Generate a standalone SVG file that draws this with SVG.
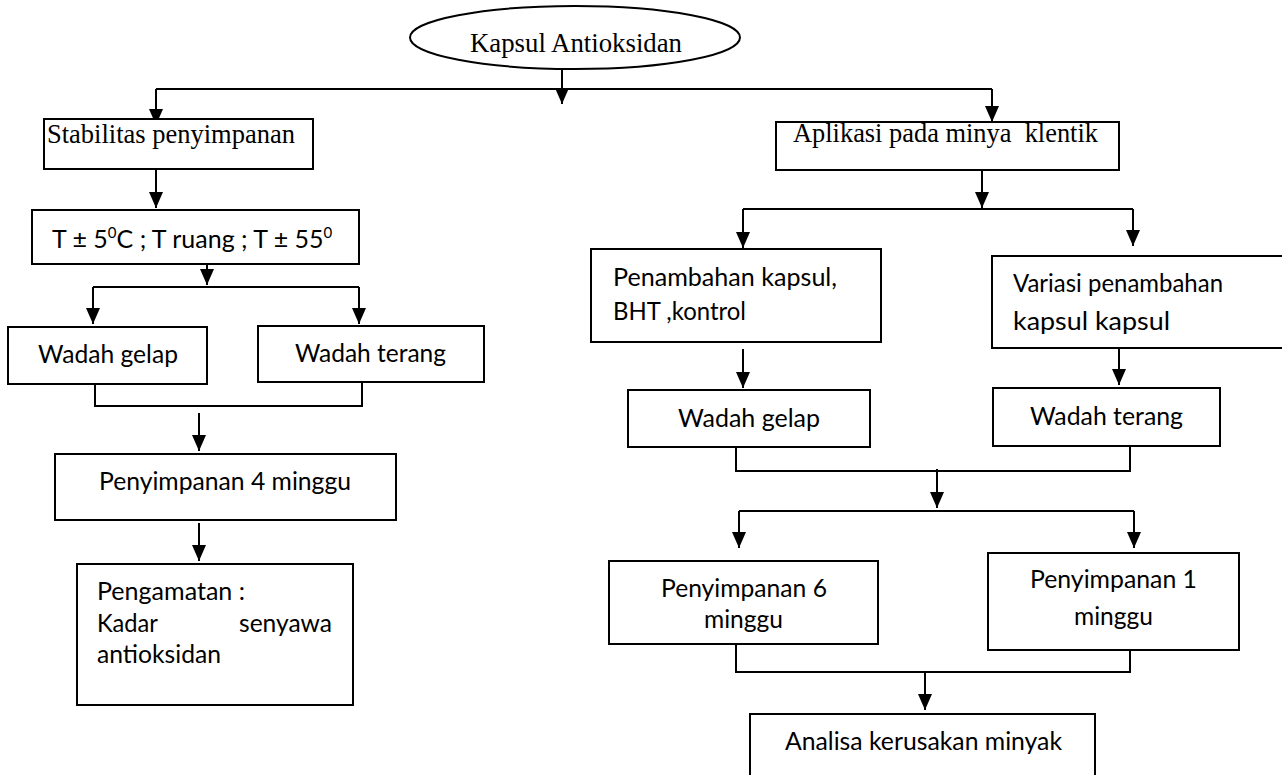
<svg xmlns="http://www.w3.org/2000/svg" width="1282" height="775" viewBox="0 0 1282 775">
<defs>
<marker id="ah" markerUnits="userSpaceOnUse" markerWidth="16" markerHeight="14" refX="16" refY="7" orient="auto">
<path d="M0,0 L16,7 L0,14 z" fill="#000"/>
</marker>
<style>
.box{fill:#fff;stroke:#000;stroke-width:2}
.ln{fill:none;stroke:#000;stroke-width:2}
.ar{fill:none;stroke:#000;stroke-width:2;marker-end:url(#ah)}
.serif{font-family:"Liberation Serif","Times New Roman",serif;font-size:28px;fill:#000;white-space:pre}
.sans{font-family:Lato,"Liberation Sans",sans-serif;font-size:25px;fill:#000;white-space:pre}
</style>
</defs>
<rect width="1282" height="775" fill="#fff"/>

<g id="connectors">
<path class="ar" d="M562,69 V104"/>
<path class="ln" d="M156,89 H992"/>
<path class="ar" d="M156,89 V125"/>
<path class="ar" d="M992,89 V122"/>
<path class="ar" d="M156,169 V208"/>
<path class="ar" d="M207,264 V285"/>
<path class="ln" d="M93,287 H359"/>
<path class="ar" d="M93,287 V324"/>
<path class="ar" d="M359,287 V324"/>
<path class="ln" d="M95,384 V406 H362 V382"/>
<path class="ar" d="M199,413 V451"/>
<path class="ar" d="M199,523 V561"/>
<path class="ar" d="M982,170 V208"/>
<path class="ln" d="M743,209 H1133"/>
<path class="ar" d="M743,209 V248"/>
<path class="ar" d="M1133,209 V246"/>
<path class="ar" d="M743,349 V388"/>
<path class="ar" d="M1119,348 V385"/>
<path class="ln" d="M736,447 V471 H1130 V446"/>
<path class="ar" d="M937,469 V508"/>
<path class="ln" d="M739,511 H1134"/>
<path class="ar" d="M739,511 V548"/>
<path class="ar" d="M1134,511 V548"/>
<path class="ln" d="M736,644 V672 H1130 V650"/>
<path class="ar" d="M925,672 V710"/>
</g>

<g id="kapsul-antioksidan">
<ellipse class="box" cx="575" cy="37.5" rx="165" ry="31.5"/>
<text class="serif" x="470" y="52" textLength="212" lengthAdjust="spacingAndGlyphs">Kapsul Antioksidan</text>
</g>

<g id="stabilitas">
<rect class="box" x="44" y="119" width="269" height="50"/>
<text class="serif" x="47" y="143" textLength="248" lengthAdjust="spacingAndGlyphs">Stabilitas penyimpanan</text>
</g>

<g id="suhu">
<rect class="box" x="32" y="210" width="327" height="54"/>
<text class="sans" x="52" y="248" font-size="24">T ± 5<tspan dy="-10" font-size="15">0</tspan><tspan dy="10">C ; T ruang ; T ± 55</tspan><tspan dy="-10" font-size="15">0</tspan></text>
</g>

<g id="wadah-gelap-1">
<rect class="box" x="8" y="327" width="199" height="57"/>
<text class="sans" x="38" y="363" textLength="140" lengthAdjust="spacingAndGlyphs">Wadah gelap</text>
</g>

<g id="wadah-terang-1">
<rect class="box" x="258" y="326" width="226" height="56"/>
<text class="sans" x="295" y="362" textLength="151" lengthAdjust="spacingAndGlyphs">Wadah terang</text>
</g>

<g id="penyimpanan-4">
<rect class="box" x="55" y="454" width="341" height="66"/>
<text class="sans" x="99" y="490" textLength="252" lengthAdjust="spacingAndGlyphs">Penyimpanan 4 minggu</text>
</g>

<g id="pengamatan">
<rect class="box" x="77" y="564" width="276" height="141"/>
<text class="sans" x="97" y="600" textLength="148" lengthAdjust="spacingAndGlyphs">Pengamatan :</text>
<text class="sans" x="97" y="632" textLength="61" lengthAdjust="spacingAndGlyphs">Kadar</text>
<text class="sans" x="239" y="632" textLength="93" lengthAdjust="spacingAndGlyphs">senyawa</text>
<text class="sans" x="97" y="663" textLength="124" lengthAdjust="spacingAndGlyphs">antioksidan</text>
</g>

<g id="aplikasi">
<rect class="box" x="776" y="122" width="343" height="48"/>
<text class="serif" x="793" y="142" textLength="305" lengthAdjust="spacingAndGlyphs">Aplikasi pada minya  klentik</text>
</g>

<g id="penambahan">
<rect class="box" x="591" y="249" width="290" height="93"/>
<text class="sans" x="613" y="286" textLength="224" lengthAdjust="spacingAndGlyphs">Penambahan kapsul,</text>
<text class="sans" x="613" y="320" textLength="133" lengthAdjust="spacingAndGlyphs">BHT ,kontrol</text>
</g>

<g id="variasi">
<rect class="box" x="992" y="256" width="300" height="92"/>
<text class="sans" x="1013" y="292" textLength="210" lengthAdjust="spacingAndGlyphs">Variasi penambahan</text>
<text class="sans" x="1013" y="330" font-size="29" textLength="157" lengthAdjust="spacingAndGlyphs">kapsul kapsul</text>
</g>

<g id="wadah-gelap-2">
<rect class="box" x="628" y="390" width="242" height="57"/>
<text class="sans" x="678" y="427" textLength="142" lengthAdjust="spacingAndGlyphs">Wadah gelap</text>
</g>

<g id="wadah-terang-2">
<rect class="box" x="993" y="388" width="227" height="58"/>
<text class="sans" x="1030" y="425" textLength="153" lengthAdjust="spacingAndGlyphs">Wadah terang</text>
</g>

<g id="penyimpanan-6">
<rect class="box" x="609" y="561" width="269" height="83"/>
<text class="sans" x="661" y="597" textLength="166" lengthAdjust="spacingAndGlyphs">Penyimpanan 6</text>
<text class="sans" x="704" y="628" textLength="79" lengthAdjust="spacingAndGlyphs">minggu</text>
</g>

<g id="penyimpanan-1">
<rect class="box" x="988" y="553" width="251" height="97"/>
<text class="sans" x="1030" y="588" textLength="167" lengthAdjust="spacingAndGlyphs">Penyimpanan 1</text>
<text class="sans" x="1074" y="625" textLength="79" lengthAdjust="spacingAndGlyphs">minggu</text>
</g>

<g id="analisa">
<rect class="box" x="750" y="714" width="345" height="80"/>
<text class="sans" x="785" y="750" textLength="277" lengthAdjust="spacingAndGlyphs">Analisa kerusakan minyak</text>
</g>
</svg>
